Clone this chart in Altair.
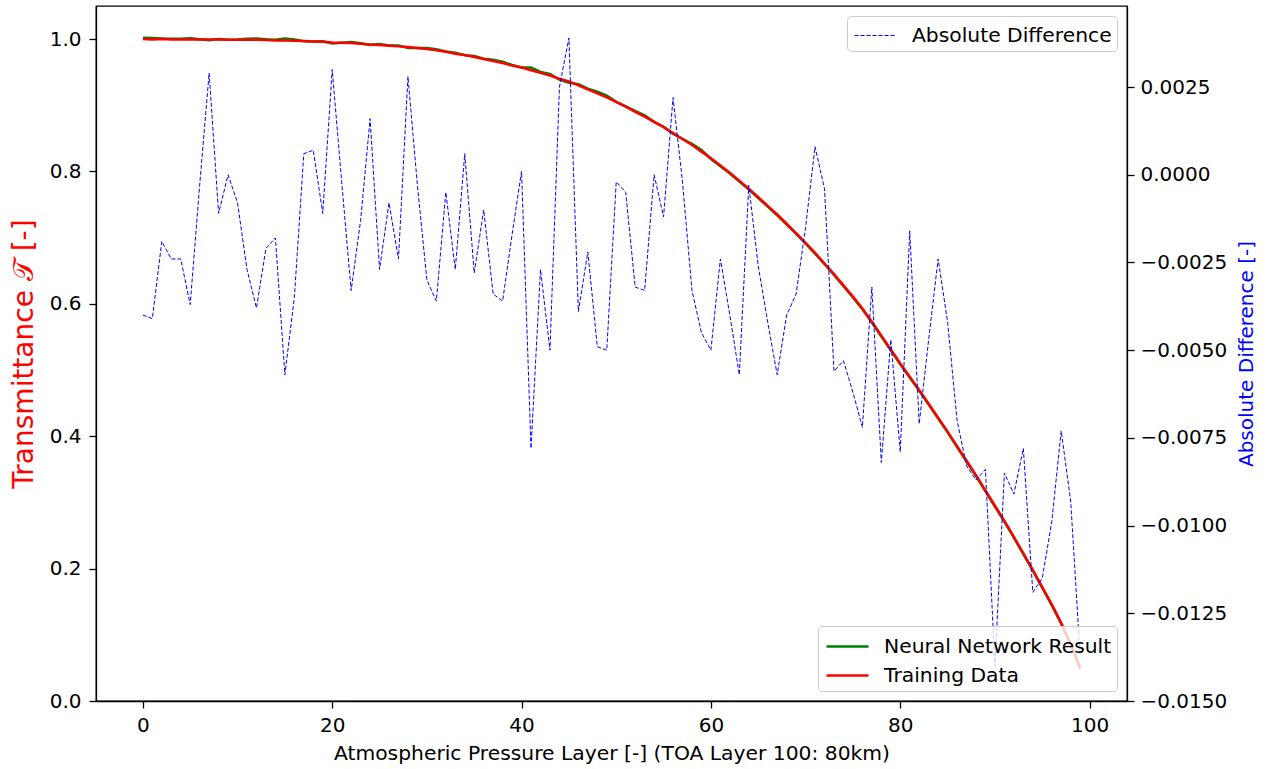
import altair as alt
import pandas as pd

layers = list(range(100))

training = [
    1.000, 0.9995, 1.000, 0.9995, 0.9995, 0.9995, 0.9995, 0.9995, 0.9995, 0.999,
    0.999, 0.999, 0.999, 0.9985, 0.998, 0.998, 0.9975, 0.997, 0.9965, 0.996,
    0.995, 0.9945, 0.994, 0.993, 0.992, 0.991, 0.990, 0.989, 0.988, 0.9865,
    0.985, 0.983, 0.981, 0.978, 0.976, 0.973, 0.970, 0.967, 0.964, 0.960,
    0.957, 0.953, 0.949, 0.945, 0.940, 0.936, 0.930, 0.924, 0.918, 0.912,
    0.905, 0.898, 0.890, 0.883, 0.875, 0.867, 0.858, 0.849, 0.840, 0.830,
    0.820, 0.809, 0.798, 0.786, 0.774, 0.761, 0.748, 0.735, 0.721, 0.707,
    0.692, 0.677, 0.661, 0.645, 0.628, 0.611, 0.593, 0.573, 0.552, 0.531,
    0.510, 0.490, 0.470, 0.449, 0.428, 0.407, 0.385, 0.363, 0.341, 0.318,
    0.295, 0.272, 0.248, 0.223, 0.198, 0.172, 0.146, 0.118, 0.086, 0.050,
]

network = [
    1.0020, 1.0016, 1.0010, 1.0007, 1.0007, 1.0014, 0.9997, 0.9981, 1.0001, 0.9990,
    0.9994, 1.0004, 1.0009, 0.9996, 0.9989, 1.0009, 0.9993, 0.9967, 0.9962, 0.9966,
    0.9935, 0.9946, 0.9957, 0.9937, 0.9912, 0.9924, 0.9904, 0.9902, 0.9866, 0.9867,
    0.9865, 0.9848, 0.9813, 0.9794, 0.9757, 0.9744, 0.9705, 0.9687, 0.9658, 0.9609,
    0.9570, 0.9569, 0.9504, 0.9475, 0.9388, 0.9341, 0.9320, 0.9251, 0.9205, 0.9145,
    0.9051, 0.8983, 0.8916, 0.8847, 0.8750, 0.8676, 0.8569, 0.8491, 0.8417, 0.8323,
    0.8188, 0.8078, 0.7968, 0.7848, 0.7728, 0.7598, 0.7468, 0.7338, 0.7198, 0.7058,
    0.6908, 0.6758, 0.6598, 0.6438, 0.6268, 0.6098, 0.5918, 0.5718, 0.5508, 0.5298,
    0.5088, 0.4888, 0.4688, 0.4478, 0.4268, 0.4058, 0.3838, 0.3618, 0.3398, 0.3168,
    0.2938, 0.2708, 0.2468, 0.2218, 0.1968, 0.1708, 0.1448, 0.1168, 0.0848, 0.0488,
]

difference = [
    -0.0040, -0.0041, -0.0019, -0.0024, -0.0024, -0.0037, -0.0003, 0.0029, -0.0011, 0.0000,
    -0.0008, -0.0027, -0.0038, -0.0021, -0.0018, -0.0057, -0.0035, 0.0006, 0.0007, -0.0011,
    0.0030, -0.0002, -0.0033, -0.0013, 0.0016, -0.0027, -0.0008, -0.0024, 0.0028, -0.0003,
    -0.0030, -0.0036, -0.0005, -0.0027, 0.0006, -0.0028, -0.0010, -0.0034, -0.0036, -0.0017,
    0.0001, -0.0078, -0.0027, -0.0050, 0.0025, 0.0039, -0.0039, -0.0022, -0.0049, -0.0050,
    -0.0002, -0.0005, -0.0032, -0.0033, 0.0000, -0.0012, 0.0022, -0.0002, -0.0033, -0.0045,
    -0.0050, -0.0024, -0.0040, -0.0057, -0.0003, -0.0026, -0.0042, -0.0057, -0.0040, -0.0034,
    -0.0015, 0.0008, -0.0004, -0.0056, -0.0053, -0.0062, -0.0072, -0.0032, -0.0082, -0.0047,
    -0.0079, -0.0016, -0.0071, -0.0047, -0.0024, -0.0042, -0.0070, -0.0083, -0.0087, -0.0084,
    -0.0140, -0.0085, -0.0091, -0.0078, -0.0119, -0.0115, -0.0099, -0.0073, -0.0093, -0.0137,
]

x_ticks = [0, 20, 40, 60, 80, 100]
left_ticks = [0.0, 0.2, 0.4, 0.6, 0.8, 1.0]
right_ticks = [-0.015, -0.0125, -0.01, -0.0075, -0.005, -0.0025, 0.0, 0.0025]

df = pd.DataFrame({"i": layers, "t": training, "nn": network, "d": difference})

FONT = "DejaVu Sans"
FS = 20

x_enc = alt.X(
    "i:Q",
    scale=alt.Scale(domain=[-4.95, 103.95], nice=False, zero=False),
    axis=alt.Axis(
        values=x_ticks, format="d", tickSize=7, labelPadding=7,
        labelFlush=False, labelOverlap=False,
        title="Atmospheric Pressure Layer [-] (TOA Layer 100: 80km)",
        titleFontSize=20.3, titleFontWeight="normal", titleY=58,
        titleBaseline="alphabetic", zindex=1,
    ),
)

left_scale = alt.Scale(domain=[0, 1.05], nice=False, zero=False)
left_axis = alt.Axis(
    values=left_ticks, format=".1f", tickSize=7, labelPadding=8,
    title="Transmittance 𝒯 [-]", titleColor="red", titleFontSize=28,
    titleFontWeight="normal", titleAngle=270, titleX=-72, titleY=347.5,
    titleAlign="center", titleBaseline="middle", zindex=1,
)

legend_common = dict(
    title=None, offset=10, fillColor="rgba(255,255,255,0.8)",
    strokeColor="#cccccc", cornerRadius=4, padding=5,
    symbolType="M-1.5,0L1.5,0", symbolSize=784, symbolOffset=9,
    labelFontSize=20.3, labelFont=FONT, labelColor="black",
    labelLimit=500, rowPadding=3, zindex=2,
)

color_main = alt.Scale(domain=["Neural Network Result", "Training Data"],
                       range=["#008000", "#ff0000"])
main_legend = alt.Legend(orient="bottom-right", symbolStrokeWidth=2.5,
                         labelOffset=21, **legend_common)

green = alt.Chart(df).transform_calculate(
    series="'Neural Network Result'"
).mark_line(strokeWidth=2.5).encode(
    x=x_enc,
    y=alt.Y("nn:Q", scale=left_scale, axis=left_axis),
    color=alt.Color("series:N", scale=color_main, legend=main_legend),
)
red = alt.Chart(df).transform_calculate(
    series="'Training Data'"
).mark_line(strokeWidth=2.5).encode(
    x=x_enc,
    y=alt.Y("t:Q", scale=left_scale, axis=left_axis),
    color=alt.Color("series:N", scale=color_main, legend=main_legend),
)

blue = alt.Chart(df).transform_calculate(
    series2="'Absolute Difference'"
).mark_line(strokeWidth=1, strokeDash=[4, 2]).encode(
    x=x_enc,
    y=alt.Y(
        "d:Q",
        scale=alt.Scale(domain=[-0.015, 0.00481], nice=False, zero=False),
        axis=alt.Axis(
            orient="right", values=right_ticks, format=".4f", tickSize=7,
            labelPadding=6, title="Absolute Difference [-]", titleColor="blue",
            titleFontSize=20, titleFontWeight="normal", titleAngle=270,
            titleX=119, titleY=347.5, titleAlign="center",
            titleBaseline="middle", zindex=1,
        ),
    ),
    color=alt.Color(
        "series2:N",
        scale=alt.Scale(domain=["Absolute Difference"], range=["#0000ff"]),
        legend=alt.Legend(orient="top-right", symbolStrokeWidth=1,
                          symbolDash=[4, 2], labelOffset=22, **legend_common),
    ),
)

chart = alt.layer(alt.layer(green, red), blue).resolve_scale(
    y="independent", color="independent"
).properties(
    width=1031, height=695,
    padding={"left": 96, "top": 6, "right": 142, "bottom": 68},
    autosize=alt.AutoSizeParams(type="none"),
    background="white",
).configure_view(
    stroke="black", strokeWidth=1.3,
).configure_axis(
    grid=False, domainColor="black", domainWidth=1.3, tickColor="black",
    tickWidth=1.3, labelColor="black", labelFont=FONT, labelFontSize=FS,
    titleFont=FONT,
)

chart.save("out.html", embed_options={"renderer": "svg", "actions": False})
